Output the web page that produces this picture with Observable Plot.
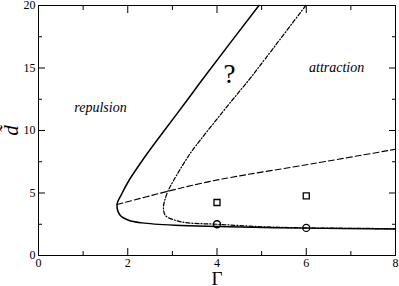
<!DOCTYPE html>
<html>
<head>
<meta charset="utf-8">
<script src="https://cdn.jsdelivr.net/npm/d3@7"></script>
<script src="https://cdn.jsdelivr.net/npm/@observablehq/plot@0.6"></script>
<style>
  html, body { margin: 0; padding: 0; background: #fff; }
  svg, svg text { font-family: "Liberation Serif", "Times New Roman", Times, serif !important; }
</style>
</head>
<body>
<div id="chart"></div>
<script>
// Solid curve (upper branch -> nose -> lower branch)
const solidGamma = [4.94, 3.69, 3.33, 2.82, 2.49, 2.33, 2.03, 1.87, 1.76, 1.83, 2.02, 2.32, 3.06, 4.0, 6.0, 8.0];
const solidD     = [20.0, 14.16, 12.42, 10.0, 8.42, 7.62, 6.02, 4.96, 4.08, 3.22, 2.82, 2.61, 2.42, 2.32, 2.19, 2.12];
// Dashed curve
const dashedGamma = [1.76, 2.90, 3.63, 4.30, 6.17, 8.0];
const dashedD     = [4.08, 5.14, 5.76, 6.24, 7.36, 8.5];
// Dash-dot curve
const dashDotGamma = [5.99, 4.97, 4.71, 4.34, 3.45, 3.30, 3.03, 2.90, 2.83, 2.80, 2.84, 3.06, 3.36, 4.0, 5.0, 6.0, 8.0];
const dashDotD     = [20.0, 15.22, 14.02, 12.42, 8.42, 7.62, 6.02, 5.14, 4.42, 3.89, 3.22, 2.82, 2.61, 2.5, 2.3, 2.21, 2.15];
// Markers
const squareGamma = [4, 6];
const squareD     = [4.24, 4.77];
const circleGamma = [4, 6];
const circleD     = [2.5, 2.21];
// Ticks
const xMajor = [0, 2, 4, 6, 8];
const xMinor = [1, 3, 5, 7];
const yMajor = [0, 5, 10, 15, 20];
const yMinor = [2.5, 7.5, 12.5, 17.5];
// Annotations
const regionNames = ["repulsion", "attraction"];
const regionGamma = [1.39, 6.68];
const regionD     = [11.8, 15.0];
const questionMark = [{text: "?", g: 4.28, d: 14.5}];

const zip = (gs, ds) => gs.map((g, i) => ({g, d: ds[i]}));
const solid = zip(solidGamma, solidD);
const dashed = zip(dashedGamma, dashedD);
const dashDot = zip(dashDotGamma, dashDotD);
const squares = zip(squareGamma, squareD);
const circles = zip(circleGamma, circleD);
const regions = regionNames.map((t, i) => ({text: t, g: regionGamma[i], d: regionD[i]}));

const none = () => "";

const chart = Plot.plot({
  width: 399,
  height: 286,
  marginLeft: 38,
  marginRight: 4,
  marginTop: 5,
  marginBottom: 31,
  style: {fontSize: "12px", background: "white", color: "black"},
  x: {domain: [0, 8], label: null},
  y: {domain: [0, 20], label: null},
  marks: [
    // tick labels
    Plot.axisX(xMajor, {anchor: "bottom", tickSize: 0, tickPadding: 3, fontSize: 12, label: null}),
    Plot.axisY(yMajor, {anchor: "left", tickSize: 0, tickPadding: 3, fontSize: 12, label: null}),
    // inward ticks
    Plot.axisX(xMajor, {anchor: "bottom", tickSize: -7, tickFormat: none, label: null}),
    Plot.axisX(xMinor, {anchor: "bottom", tickSize: -4, tickFormat: none, label: null}),
    Plot.axisX(xMajor, {anchor: "top", tickSize: -7, tickFormat: none, label: null}),
    Plot.axisX(xMinor, {anchor: "top", tickSize: -4, tickFormat: none, label: null}),
    Plot.axisY(yMajor, {anchor: "left", tickSize: -7, tickFormat: none, label: null}),
    Plot.axisY(yMinor, {anchor: "left", tickSize: -4, tickFormat: none, label: null}),
    Plot.axisY(yMajor, {anchor: "right", tickSize: -7, tickFormat: none, label: null}),
    Plot.axisY(yMinor, {anchor: "right", tickSize: -4, tickFormat: none, label: null}),
    Plot.frame({stroke: "black", strokeWidth: 1}),
    // curves
    Plot.line(solid, {x: "g", y: "d", curve: "catmull-rom", stroke: "black", strokeWidth: 1.5}),
    Plot.line(dashed, {x: "g", y: "d", curve: "catmull-rom", stroke: "black", strokeWidth: 1.1, strokeDasharray: "6,3"}),
    Plot.line(dashDot, {x: "g", y: "d", curve: "catmull-rom", stroke: "black", strokeWidth: 1.25, strokeDasharray: "4,2,1,2"}),
    // markers
    Plot.dot(squares, {x: "g", y: "d", symbol: "square", r: 3.4, stroke: "black", strokeWidth: 1.3, fill: "none"}),
    Plot.dot(circles, {x: "g", y: "d", symbol: "circle", r: 3.5, stroke: "black", strokeWidth: 1.3, fill: "none"}),
    // annotations
    Plot.text(regions, {x: "g", y: "d", text: "text", fontSize: 14, fontStyle: "italic", fill: "black"}),
    Plot.text(questionMark, {x: "g", y: "d", text: "text", fontSize: 27, fill: "black"}),
    // axis titles
    Plot.text(["Γ"], {frameAnchor: "bottom", lineAnchor: "middle", textAnchor: "middle", dy: 23, fontSize: 19, fill: "black"}),
    Plot.text(["d\u0303"], {frameAnchor: "left", lineAnchor: "middle", textAnchor: "middle", dx: -27, rotate: -90, fontSize: 21, fontStyle: "italic", fill: "black"})
  ]
});

document.getElementById("chart").appendChild(chart);
</script>
</body>
</html>
